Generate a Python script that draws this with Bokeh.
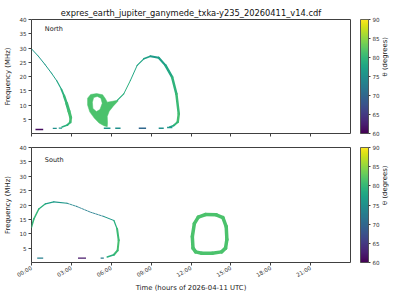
import numpy as np
from bokeh.plotting import figure
from bokeh.models import (ColumnDataSource, LinearColorMapper, ColorBar, FixedTicker,
                          Range1d, Label, LinearAxis)
from bokeh.palettes import Viridis256
from bokeh.layouts import column
from bokeh.embed import file_html
from bokeh.resources import INLINE

FONT = "DejaVu Sans"
TITLE = "expres_earth_jupiter_ganymede_txka-y235_20260411_v14.cdf"
XLABEL = "Time (hours of 2026-04-11 UTC)"
YLABEL = "Frequency (MHz)"
CLABEL = "θ (degrees)"
TH_LOW, TH_HIGH = 60, 90
xticks = [0, 3, 6, 9, 12, 15, 18, 21]
xtick_labels = ["00:00", "03:00", "06:00", "09:00", "12:00", "15:00", "18:00", "21:00"]
yticks = [5, 10, 15, 20, 25, 30, 35, 40]
cticks = [60, 65, 70, 75, 80, 85, 90]

# ---------------- North hemisphere ----------------
# arc 1 (hours, MHz, theta deg, width px)
n1_h = [0.0, 0.5, 1.0, 1.5, 1.9, 2.25, 2.45, 2.65, 2.82, 2.95, 2.92, 2.7, 2.3]
n1_f = [29.7, 27.2, 24.3, 21.2, 18.5, 15.5, 13.2, 10.5, 7.8, 5.6, 4.0, 3.0, 2.3]
n1_t = [76, 76, 76.5, 77, 78, 79, 80, 80.5, 81, 81, 80, 79, 78]
n1_w = [1, 1, 1, 1, 1.2, 1.8, 2.5, 3, 3, 2.6, 2, 1.5, 1]

# filled lobe with a hole (loop)
blob_outer_h = [6.5, 6.1, 5.7, 5.55, 5.35, 4.9, 4.45, 4.22, 4.22, 4.38, 4.72, 5.08, 5.45, 5.7, 5.72, 5.7, 5.85, 6.15, 6.5]
blob_outer_f = [11.7, 11.3, 11.0, 12.3, 13.6, 14.0, 13.7, 12.4, 10.0, 7.6, 5.4, 3.7, 2.7, 2.4, 3.8, 6.0, 7.8, 9.6, 11.3]
blob_hole_h = [4.58, 4.68, 4.95, 5.22, 5.32, 5.15, 4.88, 4.62]
blob_hole_f = [11.0, 12.6, 13.0, 12.4, 10.6, 8.4, 7.7, 8.8]
blob_theta = [81.5]

# arch
n2_h = [6.45, 6.94, 7.44, 7.95, 8.45, 8.95, 9.57, 10.08, 10.58, 10.9, 11.08, 11.0, 10.7, 10.4]
n2_f = [11.6, 13.9, 18.6, 23.9, 26.2, 27.1, 26.6, 23.9, 19.8, 13.9, 6.9, 4.0, 2.8, 2.3]
n2_t = [79, 79, 78, 77.5, 77, 76.5, 77, 78, 79.5, 80.5, 81, 80, 78, 77]
n2_w = [1.2, 1, 1, 1.2, 1.6, 2, 2.2, 2.5, 2.5, 2.5, 2.5, 2, 1.5, 1]

# low-frequency dashes (start h, end h, MHz, theta)
nd_h0 = [0.3, 1.6, 2.05, 5.44, 6.3, 8.07, 9.57, 10.2]
nd_h1 = [0.88, 1.9, 2.3, 5.94, 6.7, 8.62, 9.95, 10.6]
nd_f = [1.4, 1.8, 1.9, 1.85, 1.85, 1.85, 1.85, 2.1]
nd_t = [61, 75, 76, 76, 75, 70, 75, 76]

# ---------------- South hemisphere ----------------
s1_h = [0.0, 0.18, 0.55, 1.05, 1.68, 2.68]
s1_f = [12.3, 15.2, 18.6, 20.4, 21.1, 20.6]
s1_t = [80, 80, 79, 77, 76, 75]
s1_w = [1.6, 1.5, 1.3, 1.2, 1.2, 1.0]

s2_h = [2.68, 3.4, 4.44, 5.44]
s2_f = [20.6, 19.5, 17.5, 16.0]
s2_t = [74, 73, 73, 74]
s2_w = [0.9, 0.9, 0.9, 0.9]

s3_h = [5.44, 6.2, 6.44, 6.56, 6.48, 6.2, 5.7]
s3_f = [16.0, 14.6, 11.7, 7.7, 4.2, 2.7, 1.9]
s3_t = [76, 79, 80.5, 81, 80.5, 79, 77]
s3_w = [1, 1.3, 2, 2, 2, 1.5, 1]

ring_h = [12.15, 12.1, 12.25, 12.55, 13.1, 13.9, 14.4, 14.65, 14.7, 14.6, 14.3, 13.6, 12.8, 12.35, 12.15]
ring_f = [5, 9, 13.5, 15.8, 16.7, 16.6, 15.6, 12.5, 8, 5, 3.7, 3.2, 3.2, 3.7, 5]
ring_t = [81.5] * 15
ring_w = [3.5] * 15

sd_h0 = [0.43, 3.5, 5.2]
sd_h1 = [0.88, 4.1, 5.44]
sd_f = [1.5, 1.5, 1.5]
sd_t = [73, 62, 72]

mapper = LinearColorMapper(palette=Viridis256, low=TH_LOW, high=TH_HIGH)


def draw_curve(p, h, f, t, w, dash="solid"):
    h = np.asarray(h, float); f = np.asarray(f, float)
    src = ColumnDataSource(dict(x0=h[:-1], y0=f[:-1], x1=h[1:], y1=f[1:],
                                th=list(t[:-1]), w=list(w[:-1])))
    p.segment("x0", "y0", "x1", "y1", source=src,
              line_color={"field": "th", "transform": mapper},
              line_width="w", line_cap="round", line_dash=dash)


def draw_dashes(p, h0, h1, f, t):
    src = ColumnDataSource(dict(x0=h0, x1=h1, y=f, th=t))
    p.segment("x0", "y", "x1", "y", source=src,
              line_color={"field": "th", "transform": mapper}, line_width=1.3)


def make_fig(height, top, bottom, show_xlabels):
    p = figure(width=400, height=height, output_backend="svg", toolbar_location=None,
               x_range=Range1d(0, 24), y_range=Range1d(0, 40),
               min_border_left=31, min_border_right=50,
               min_border_top=top, min_border_bottom=bottom)
    p.grid.visible = False
    p.outline_line_color = "#404040"
    p.outline_line_width = 1
    p.background_fill_color = "white"
    for ax in (p.xaxis[0], p.yaxis[0]):
        ax.axis_line_color = None
        ax.major_tick_line_color = "#404040"
        ax.major_tick_in = 0
        ax.major_tick_out = 3
        ax.minor_tick_line_color = None
        ax.major_label_text_font = FONT
        ax.major_label_text_font_size = "5.6px"
        ax.major_label_text_color = "#333333"
        ax.axis_label_text_font = FONT
        ax.axis_label_text_font_size = "6.9px"
        ax.axis_label_text_font_style = "normal"
        ax.axis_label_text_color = "#222222"
    p.xaxis.ticker = FixedTicker(ticks=xticks)
    p.yaxis.ticker = FixedTicker(ticks=yticks)
    p.yaxis.axis_label = YLABEL
    p.yaxis.axis_label_standoff = 4
    p.yaxis.major_label_standoff = 2
    if show_xlabels:
        p.xaxis.major_label_overrides = {t: l for t, l in zip(xticks, xtick_labels)}
        p.xaxis.major_label_orientation = np.pi / 6
        p.xaxis.major_label_standoff = 2
        p.xaxis.axis_label = XLABEL
        p.xaxis.axis_label_standoff = 0
    else:
        p.xaxis.major_label_overrides = {t: "" for t in xticks}
        p.xaxis.major_label_standoff = 0
    cb = ColorBar(color_mapper=mapper, ticker=FixedTicker(ticks=cticks),
                  width=8, height="auto", location=(10, 0), margin=0, padding=0,
                  major_tick_in=0, major_tick_out=2, major_tick_line_color="#404040",
                  major_label_text_font=FONT, major_label_text_font_size="5.6px",
                  major_label_text_color="#333333", label_standoff=2,
                  bar_line_color="#404040", bar_line_width=0.8)
    p.add_layout(cb, "right")
    cax = LinearAxis(ticker=FixedTicker(ticks=[]), axis_line_color=None,
                     major_tick_line_color=None, minor_tick_line_color=None,
                     axis_label=CLABEL, axis_label_standoff=2,
                     axis_label_text_font=FONT, axis_label_text_font_size="6.9px",
                     axis_label_text_font_style="normal", axis_label_text_color="#222222")
    cax.axis_label_orientation = np.pi / 2
    p.add_layout(cax, "right")
    return p


top = make_fig(140, 19, 7, False)
top.title.text = TITLE
top.title.align = "center"
top.title.text_font = FONT
top.title.text_font_size = "8.3px"
top.title.text_font_style = "normal"
top.title.text_color = "#111111"
top.title.standoff = 4

draw_curve(top, n1_h, n1_f, n1_t, n1_w)
bsrc = ColumnDataSource(dict(xs=[[[blob_outer_h, blob_hole_h]]], ys=[[[blob_outer_f, blob_hole_f]]],
                             th=blob_theta))
top.multi_polygons("xs", "ys", source=bsrc, fill_color={"field": "th", "transform": mapper},
                   line_color={"field": "th", "transform": mapper}, line_width=0.5)
draw_curve(top, n2_h, n2_f, n2_t, n2_w)
draw_dashes(top, nd_h0, nd_h1, nd_f, nd_t)
top.add_layout(Label(x=1.0, y=36.5, text="North", text_baseline="middle",
                     text_font=FONT, text_font_size="6.5px", text_color="#222222"))

bot = make_fig(160, 7, 38, True)
draw_curve(bot, s1_h, s1_f, s1_t, s1_w)
draw_curve(bot, s2_h, s2_f, s2_t, s2_w, dash="2 1")
draw_curve(bot, s3_h, s3_f, s3_t, s3_w)
draw_curve(bot, ring_h, ring_f, ring_t, ring_w)
draw_dashes(bot, sd_h0, sd_h1, sd_f, sd_t)
bot.add_layout(Label(x=1.0, y=35.8, text="South", text_baseline="middle",
                     text_font=FONT, text_font_size="6.5px", text_color="#222222"))

layout = column(top, bot)
open("out.html", "w").write(file_html(layout, INLINE))
